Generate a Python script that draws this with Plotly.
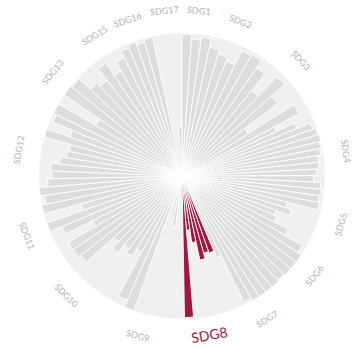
import math
import plotly.graph_objects as go

# Goal names, clockwise from the top
sdg_names = ["SDG1", "SDG2", "SDG3", "SDG4", "SDG5", "SDG6", "SDG7", "SDG8",
             "SDG9", "SDG10", "SDG11", "SDG12", "SDG13", "SDG15", "SDG16", "SDG17"]

# Indicator scores (0-100) per goal
sdg1 = [99, 96, 98]
sdg2 = [92, 89, 86, 97]
sdg3 = [98, 92, 77, 96, 84, 55, 93]
sdg4 = [73, 87, 97, 99, 100, 99, 98, 96, 96, 94, 92, 97, 98, 97]
sdg5 = [98, 76, 80, 70]
sdg6 = [72, 83, 97, 100, 100, 100, 99, 100]
sdg7 = [100, 100, 100, 98, 62]
sdg8 = [57, 56, 60, 47, 38, 99]
sdg9 = [4, 6, 36, 28, 10, 100, 95, 60]
sdg10 = [66, 63, 70, 64, 90, 92]
sdg11 = [92, 70, 91, 100, 73, 100, 97]
sdg12 = [100, 94, 91, 92, 86, 82, 81, 100, 83, 98]
sdg13 = [100, 70, 100, 99, 88, 85]
sdg15 = [95, 85, 92]
sdg16 = [97, 99, 97, 99]
sdg17 = [3, 3, 34]

scores = [sdg1, sdg2, sdg3, sdg4, sdg5, sdg6, sdg7, sdg8, sdg9, sdg10,
          sdg11, sdg12, sdg13, sdg15, sdg16, sdg17]

highlight = "SDG8"

# Angular sector given to each goal (degrees, sums to 360)
sector_deg = [12, 18, 32, 39, 12, 28, 16, 22, 33, 24, 26, 34, 26, 12, 14, 12]

GREY = "#dcdddd"
DISC = "#f0f0f0"
RED = "#a3173f"
LABEL = "#b3b3b3"

W, H = 355, 347
CX, CY, RAD = 182, 176, 143
LABEL_R = 166

fig = go.Figure()
start = 0.0
annotations = []
for name, vals, span in zip(sdg_names, scores, sector_deg):
    step = span / len(vals)
    thetas = [start + step * (i + 0.5) for i in range(len(vals))]
    color = RED if name == highlight else GREY
    fig.add_trace(go.Barpolar(
        r=vals, theta=thetas, width=[step] * len(vals),
        marker=dict(color=color, line=dict(color="white", width=0.9)),
        name=name, hoverinfo="r+name",
    ))
    mid = start + span / 2
    big = name == highlight
    rad = LABEL_R
    if big:
        mid += 2
        rad = 161
    a = math.radians(mid)
    px = CX + rad * math.sin(a)
    py = CY - rad * math.cos(a)
    rot = mid - 180 if 90 < mid < 270 else (mid - 360 if mid > 270 else mid)
    annotations.append(dict(
        x=px / W, y=1 - py / H, xref="paper", yref="paper",
        text=name, showarrow=False, textangle=rot,
        xanchor="center", yanchor="middle",
        font=dict(size=14 if big else 9, color=RED if big else LABEL,
                  family="Lato"),
    ))
    start += span

fig.update_layout(
    width=W, height=H,
    margin=dict(l=0, r=0, t=0, b=0),
    paper_bgcolor="white",
    showlegend=False,
    annotations=annotations,
    polar=dict(
        domain=dict(x=[(CX - RAD) / W, (CX + RAD) / W],
                    y=[(H - CY - RAD) / H, (H - CY + RAD) / H]),
        bgcolor=DISC,
        bargap=0,
        radialaxis=dict(range=[0, 100], visible=False, showgrid=False),
        angularaxis=dict(rotation=90, direction="clockwise", showgrid=False,
                         showticklabels=False, ticks="", showline=False),
    ),
)

fig.write_html("out.html")
